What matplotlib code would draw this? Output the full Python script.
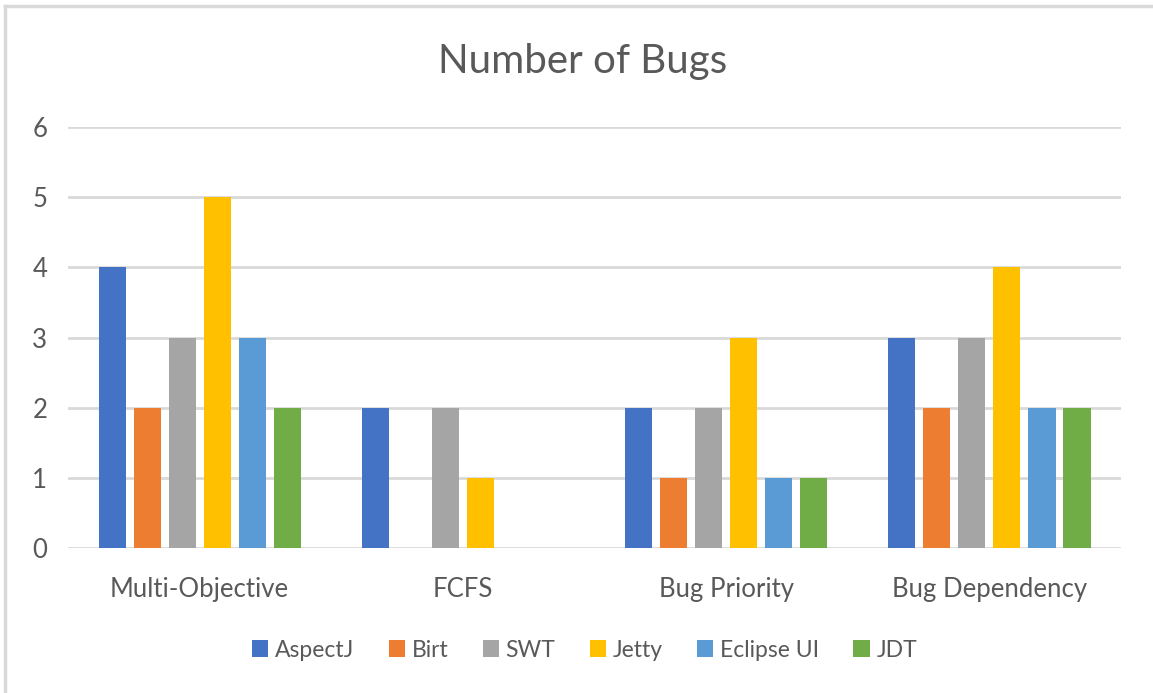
import numpy as np
import matplotlib
matplotlib.use('Agg')
import matplotlib.pyplot as plt
from matplotlib.lines import Line2D

plt.rcParams['font.family'] = ['Lato', 'DejaVu Sans']

# Data
categories = ['Multi-Objective', 'FCFS', 'Bug Priority', 'Bug Dependency']
projects = ['AspectJ', 'Birt', 'SWT', 'Jetty', 'Eclipse UI', 'JDT']
aspectj = [4, 2, 2, 3]
birt = [2, 0, 1, 2]
swt = [3, 2, 2, 3]
jetty = [5, 1, 3, 4]
eclipse_ui = [3, 0, 1, 2]
jdt = [2, 0, 1, 2]
series = [aspectj, birt, swt, jetty, eclipse_ui, jdt]
colors = ['#4472C4', '#ED7D31', '#A5A5A5', '#FFC000', '#5B9BD5', '#70AD47']

text_color = '#595959'
grid_color = '#D9D9D9'

fig = plt.figure(figsize=(11.53, 6.93), dpi=100)
ax = fig.add_axes([0.059, 0.2092, 0.9133, 0.6075])

x = np.arange(len(categories))
step = 0.133
width = 0.103
for i, (name, vals) in enumerate(zip(projects, series)):
  offs = (i - 2.5) * step
  ax.bar(x + offs, vals, width, color=colors[i], label=name, zorder=3)

ax.set_xlim(-0.5, len(categories) - 0.5)
ax.set_ylim(0, 6)
ax.set_yticks(range(7))
ax.set_xticks(x)
ax.set_xticklabels(categories)
ax.tick_params(axis='both', length=0, colors=text_color, labelsize=18.5)
ax.tick_params(axis='x', pad=21)
ax.tick_params(axis='y', pad=15)
ax.grid(axis='y', color=grid_color, linewidth=2, zorder=0)
for s in ax.spines.values():
  s.set_visible(False)

fig.text(0.505, 0.911, 'Number of Bugs', ha='center', va='center', fontsize=29, color=text_color)

leg = fig.legend(loc='center', bbox_to_anchor=(0.507, 0.062), ncol=6, frameon=False,
                 fontsize=16.5, handlelength=0.7, handleheight=0.7, handletextpad=0.3,
                 columnspacing=1.5)
for t in leg.get_texts():
  t.set_color(text_color)

# chart border (top and left visible)
fig.add_artist(Line2D([0.0045, 1.0], [0.991, 0.991], color='#D9D9D9', linewidth=2.5))
fig.add_artist(Line2D([0.0045, 0.0045], [0.0, 0.991], color='#D9D9D9', linewidth=2.5))

fig.savefig('out.png', dpi=100)
